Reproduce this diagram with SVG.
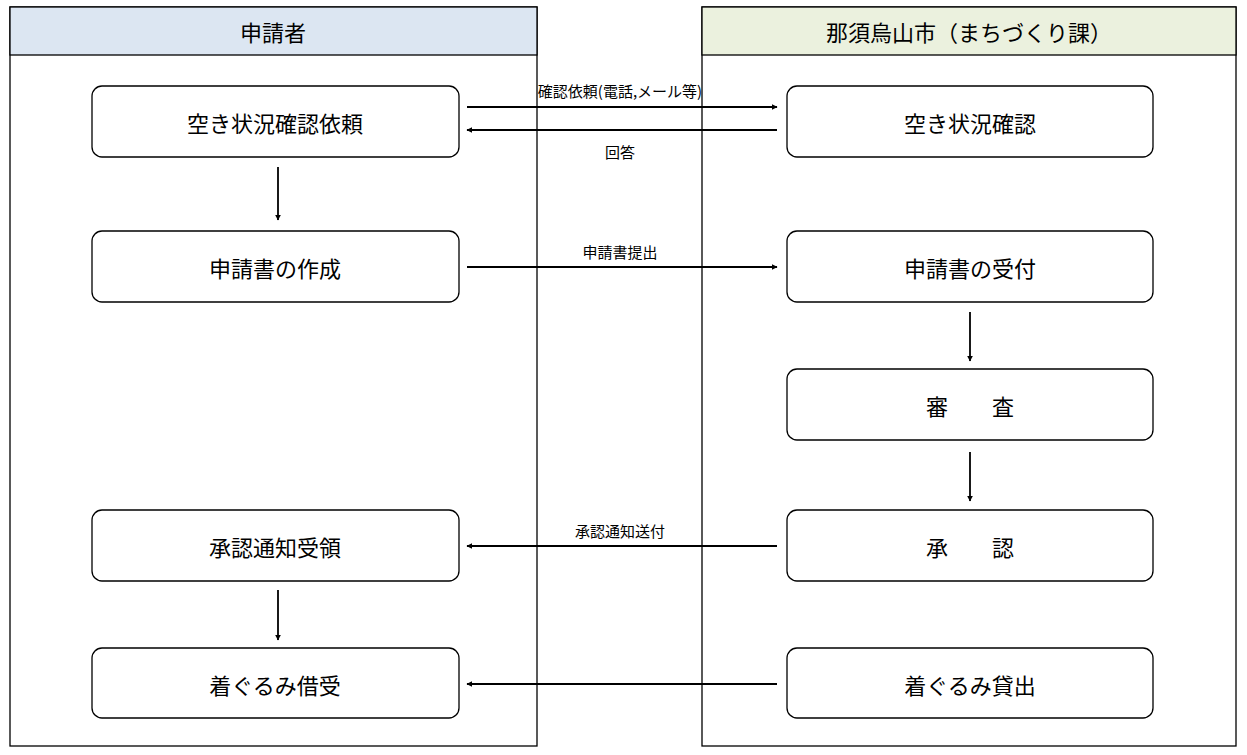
<svg xmlns="http://www.w3.org/2000/svg" width="1247" height="755" viewBox="0 0 1247 755">
<defs>
<marker id="ah" viewBox="0 0 10 10" refX="9" refY="5" markerWidth="6" markerHeight="6" orient="auto" markerUnits="userSpaceOnUse"><path d="M0,0 L10,5 L0,10 z" fill="#000"/></marker>
<style>
.lane{fill:#fff;stroke:#000;stroke-width:1.3}
.box{fill:#fff;stroke:#000;stroke-width:1.3}
.t{font-family:"Noto Sans CJK JP","Noto Sans",sans-serif;font-size:22px;text-anchor:middle;dominant-baseline:central;fill:#000}
.s{font-family:"Noto Sans CJK JP","Noto Sans",sans-serif;font-size:15px;text-anchor:middle;dominant-baseline:central;fill:#000}
.c line{stroke:#000;stroke-width:1.8;marker-end:url(#ah)}
</style>
</defs>
<rect width="1247" height="755" fill="#fff"/>
<g id="lane-left"><rect class="lane" x="10" y="7" width="527" height="739"/><rect x="10" y="7" width="527" height="48" fill="#dce6f2" stroke="#000" stroke-width="1.3"/><text class="t" x="273" y="31">申請者</text></g>
<g id="lane-right"><rect class="lane" x="702" y="7" width="534" height="739"/><rect x="702" y="7" width="534" height="48" fill="#ebf1de" stroke="#000" stroke-width="1.3"/><text class="t" x="969" y="31">那須烏山市（まちづくり課）</text></g>
<g id="n1"><rect class="box" x="92" y="86" width="367" height="71" rx="10"/><text class="t" x="275" y="122">空き状況確認依頼</text></g>
<g id="n2"><rect class="box" x="92" y="231" width="367" height="71" rx="10"/><text class="t" x="275" y="267">申請書の作成</text></g>
<g id="n3"><rect class="box" x="92" y="510" width="367" height="71" rx="10"/><text class="t" x="275" y="546">承認通知受領</text></g>
<g id="n4"><rect class="box" x="92" y="648" width="367" height="70" rx="10"/><text class="t" x="275" y="684">着ぐるみ借受</text></g>
<g id="m1"><rect class="box" x="787" y="86" width="366" height="71" rx="10"/><text class="t" x="970" y="122">空き状況確認</text></g>
<g id="m2"><rect class="box" x="787" y="231" width="366" height="71" rx="10"/><text class="t" x="970" y="267">申請書の受付</text></g>
<g id="m3"><rect class="box" x="787" y="369" width="366" height="71" rx="10"/><text class="t" x="970" y="405" xml:space="preserve">審　　査</text></g>
<g id="m4"><rect class="box" x="787" y="510" width="366" height="71" rx="10"/><text class="t" x="970" y="546" xml:space="preserve">承　　認</text></g>
<g id="m5"><rect class="box" x="787" y="648" width="366" height="70" rx="10"/><text class="t" x="970" y="684">着ぐるみ貸出</text></g>
<g id="connectors" class="c">
<line x1="467" y1="107" x2="777" y2="107"/>
<line x1="777" y1="130" x2="467" y2="130"/>
<line x1="467" y1="267" x2="777" y2="267"/>
<line x1="777" y1="546" x2="467" y2="546"/>
<line x1="777" y1="684" x2="467" y2="684"/>
<line x1="278" y1="167" x2="278" y2="220"/>
<line x1="278" y1="590" x2="278" y2="640"/>
<line x1="970" y1="312" x2="970" y2="361"/>
<line x1="970" y1="452" x2="970" y2="501"/>
<text class="s" x="620" y="90">確認依頼(電話,メール等)</text>
<text class="s" x="620" y="151">回答</text>
<text class="s" x="620" y="251">申請書提出</text>
<text class="s" x="620" y="530">承認通知送付</text>
</g>
</svg>
